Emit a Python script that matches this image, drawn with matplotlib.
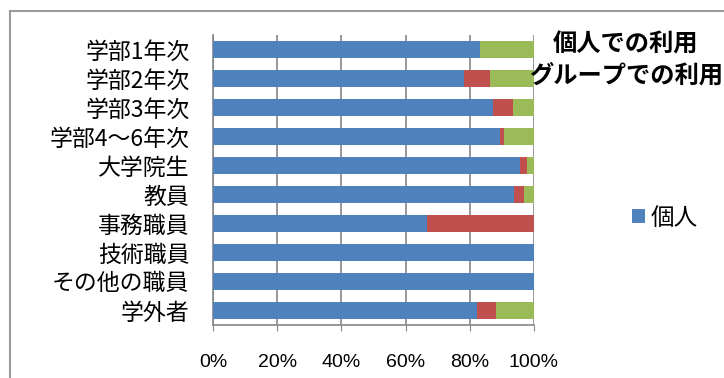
import matplotlib
matplotlib.use("Agg")
import matplotlib.pyplot as plt
from matplotlib.lines import Line2D
import numpy as np

plt.rcParams['font.family'] = ['Noto Sans CJK JP', 'DejaVu Sans']

categories = ['学部1年次', '学部2年次', '学部3年次', '学部4～6年次', '大学院生',
              '教員', '事務職員', '技術職員', 'その他の職員', '学外者']
kojin = [83.2, 78.3, 87.3, 89.5, 95.7, 93.8, 66.6, 100.0, 100.0, 82.2]
red_series = [0.0, 7.9, 6.3, 1.0, 2.0, 3.0, 33.4, 0.0, 0.0, 5.9]
green_series = [16.8, 13.8, 6.4, 9.5, 2.3, 3.2, 0.0, 0.0, 0.0, 11.9]
xticks = [0, 20, 40, 60, 80, 100]
xtick_labels = ['0%', '20%', '40%', '60%', '80%', '100%']

fig = plt.figure(figsize=(7.24, 3.78), dpi=100)
ax = fig.add_axes([213/724, 1-325/378, (534-213)/724, (325-35)/378])

y = np.arange(len(categories))
h = 0.62
k = np.array(kojin)
r = np.array(red_series)
g = np.array(green_series)
ax.barh(y, k, height=h, color='#4F81BD', label='個人', zorder=3)
ax.barh(y, r, left=k, height=h, color='#C0504D', zorder=3)
ax.barh(y, g, left=k + r, height=h, color='#9BBB59', zorder=3)

ax.set_xlim(0, 100)
ax.set_ylim(len(categories) - 0.5, -0.5)
ax.set_yticks(y)
ax.set_yticklabels(categories, fontsize=16.5)
ax.set_xticks(xticks)
ax.set_xticklabels(xtick_labels, fontsize=14,
                   family=['Liberation Sans Narrow', 'Liberation Sans', 'DejaVu Sans'])
ax.tick_params(axis='y', length=0, pad=17)
ax.tick_params(axis='x', length=4, pad=17, color='#868686', direction='out')
ax.grid(axis='x', color='#868686', linewidth=1.2, zorder=0)
for s in ['top', 'right']:
    ax.spines[s].set_visible(False)
for s in ['left', 'bottom']:
    ax.spines[s].set_color('#868686')
    ax.spines[s].set_linewidth(1.2)

# figure frame (cropped)
fig.add_artist(Line2D([10/724, 1.0], [1-11/378, 1-11/378], color='#9a9a9a', linewidth=1.5,
                      transform=fig.transFigure))
fig.add_artist(Line2D([10/724, 10/724], [0, 1-11/378], color='#9a9a9a', linewidth=1.5,
                      transform=fig.transFigure))

fig.text(626/724, 1-45/378, '個人での利用', fontsize=17.5, fontweight='bold',
         ha='center', va='center')
fig.text(626/724, 1-76/378, 'グループでの利用', fontsize=17.5, fontweight='bold',
         ha='center', va='center')

fig.legend(handles=[ax.patches[0]], labels=['個人'], loc='center left',
           bbox_to_anchor=(632/724, 1-218/378), frameon=False, fontsize=17,
           borderaxespad=0, borderpad=0,
           handlelength=0.55, handleheight=0.55, handletextpad=0.25)

fig.savefig('out.png', dpi=100)
